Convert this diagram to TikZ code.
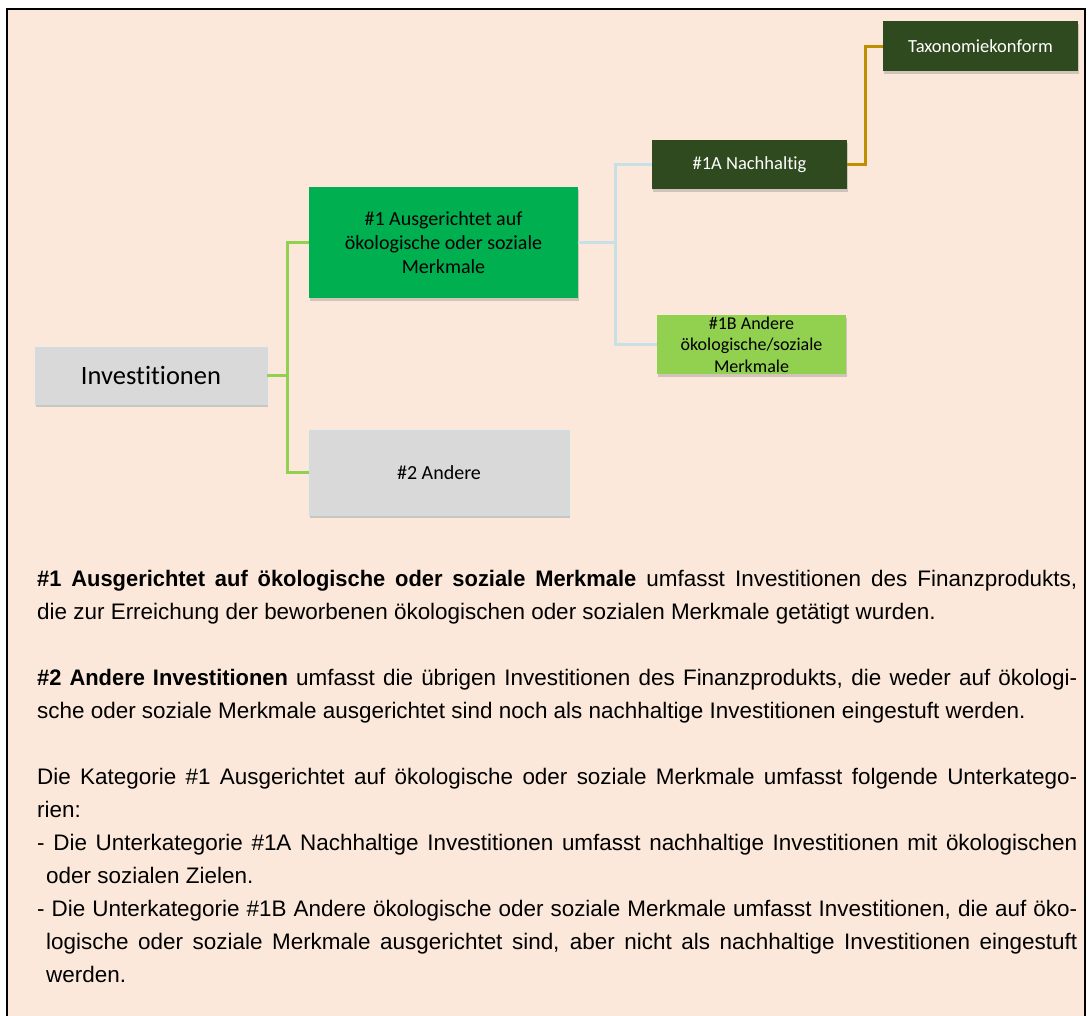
\documentclass[tikz,border=0pt]{standalone}
\usepackage{fontspec}
\setmainfont{Liberation Sans}
\newfontfamily\bodyfont[BoldFeatures={FakeStretch=0.975}]{Liberation Sans}
\newfontfamily\boxfont[Ligatures=NoCommon]{Carlito}
\usetikzlibrary{shadows}
\definecolor{peach}{HTML}{FBE8DA}
\definecolor{boxgray}{HTML}{D9D9D9}
\definecolor{midgreen}{HTML}{00B050}
\definecolor{darkgreen}{HTML}{2F4A1E}
\definecolor{lightgreen}{HTML}{92D050}
\definecolor{goldline}{HTML}{BF8F00}
\definecolor{blueline}{HTML}{C7E0E6}
\tikzset{
  boxbase/.style={inner sep=0pt, align=center, font=\boxfont,
    drop shadow={opacity=0.35, shadow xshift=1pt, shadow yshift=-2.5pt}},
  graybox/.style={boxbase, fill=boxgray, draw=blueline, line width=0.6pt},
  greenbox/.style={boxbase, fill=midgreen},
  darkbox/.style={boxbase, fill=darkgreen, text=white},
  lightbox/.style={boxbase, fill=lightgreen},
  greenconn/.style={draw=lightgreen, line width=3.5pt},
  blueconn/.style={draw=blueline, line width=3pt},
  goldconn/.style={draw=goldline, line width=3pt},
}
\begin{document}
\begin{tikzpicture}[x=1pt,y=-1pt]
\clip (0,0) rectangle (1091,1015);
\fill[white] (0,0) rectangle (1091,1015);
\fill[peach] (7,9) rectangle (1085,1025);
\draw[line width=2.5pt] (7,1025) -- (7,9) -- (1085,9) -- (1085,1025);

% nodes
\node[graybox, minimum width=232pt, minimum height=57pt,
      font=\boxfont\fontsize{26.5}{30}\selectfont] (inv) at (151,375.5) {Investitionen};
\node[greenbox, minimum width=269pt, minimum height=111pt,
      font=\boxfont\fontsize{20}{24}\selectfont] (a1) at (443.5,242.5)
      {\#1 Ausgerichtet auf\\ökologische oder soziale\\Merkmale};
\node[graybox, minimum width=260pt, minimum height=85pt,
      font=\boxfont\fontsize{20}{24}\selectfont] (a2) at (439,472.5) {\#2 Andere};
\node[darkbox, minimum width=195pt, minimum height=49pt,
      font=\boxfont\fontsize{18.5}{21}\selectfont] (n1a) at (749.5,164.5) {\#1A Nachhaltig};
\node[darkbox, minimum width=195pt, minimum height=50pt,
      font=\boxfont\fontsize{18.5}{21}\selectfont] (tax) at (980.5,46) {Taxonomiekonform};
\node[lightbox, minimum width=189pt, minimum height=59pt,
      font=\boxfont\fontsize{18}{21.5}\selectfont] (n1b) at (751.5,344.5)
      {\#1B Andere\\ökologische/soziale\\Merkmale};

% connectors
\draw[greenconn] (inv.east) -- ++(20,0) |- (a1.west);
\draw[greenconn] (inv.east) -- ++(20,0) |- (a2.west);
\draw[blueconn] (a1.east) -- ++(37,0) |- (n1a.west);
\draw[blueconn] (a1.east) -- ++(37,0) |- (n1b.west);
\draw[goldconn] (n1a.east) -- ++(18,0) |- (tax.west);

% text block
\node[anchor=north west, inner sep=0pt, text width=1040pt, align=justify,
      font=\bodyfont\fontsize{22.45}{33}\selectfont] (txt) at (37,570)
{\hyphenpenalty=10000\exhyphenpenalty=10000\tolerance=10000\emergencystretch=30pt
{\bfseries\#1 Ausgerichtet auf ökologische oder soziale Merkmale} umfasst Investitionen des Finanzprodukts,\linebreak
die zur Erreichung der beworbenen ökologischen oder sozialen Merkmale getätigt wurden.\par
\vskip 33pt
{\bfseries\#2 Andere Investitionen} umfasst die übrigen Investitionen des Finanzprodukts, die weder auf ökologi-\linebreak
sche oder soziale Merkmale ausgerichtet sind noch als nachhaltige Investitionen eingestuft werden.\par
\vskip 33pt
Die Kategorie \#1 Ausgerichtet auf ökologische oder soziale Merkmale umfasst folgende Unterkatego-\linebreak
rien:\par
\hangindent=9pt\hangafter=1
- Die Unterkategorie \#1A Nachhaltige Investitionen umfasst nachhaltige Investitionen mit ökologischen\linebreak
oder sozialen Zielen.\par
\hangindent=9pt\hangafter=1
- Die Unterkategorie \#1B Andere ökologische oder soziale Merkmale umfasst Investitionen, die auf öko-\linebreak
logische oder soziale Merkmale ausgerichtet sind, aber nicht als nachhaltige Investitionen eingestuft\linebreak
werden.\par};
\end{tikzpicture}
\end{document}
